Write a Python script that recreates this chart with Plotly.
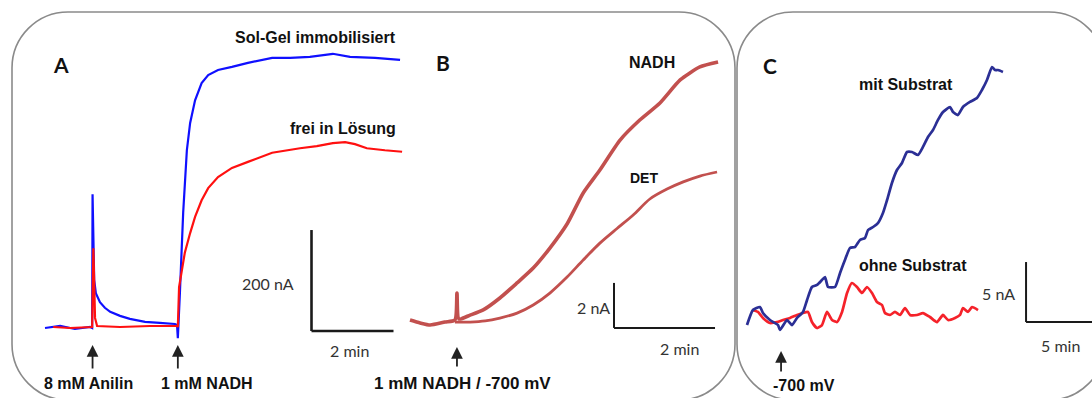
import plotly.graph_objects as go

W, H = 1092, 398

# ---------------- Panel A: amperometric response (time in min, current in nA)
A_SOLGEL_T = [0.00, 0.37, 0.73, 1.10, 1.15, 1.16, 1.20, 1.24, 1.34, 1.46, 1.59, 1.83, 2.07, 2.44,
              2.80, 3.17, 3.22, 3.24, 3.29, 3.37, 3.46, 3.54, 3.66, 3.82, 3.98, 4.22, 4.56, 4.95,
              5.54, 5.98, 6.46, 7.02, 7.44, 8.05, 8.66]
A_SOLGEL_I = [0, 4, -2, 2, 0, 265, 95, 69, 51, 40, 32, 24, 18, 12,
              10, 8, 6, -20, 69, 228, 352, 406, 451, 485, 501, 511, 517, 525,
              535, 535, 537, 543, 537, 535, 531]

A_FREI_T = [0.20, 0.61, 1.15, 1.18, 1.22, 1.27, 1.83, 2.56, 3.22, 3.24, 3.27, 3.33, 3.41, 3.54,
            3.66, 3.82, 3.98, 4.22, 4.56, 4.95, 5.54, 6.22, 6.63, 7.02, 7.32, 7.56, 7.85, 8.29, 8.71]
A_FREI_I = [2, 0, 2, 158, 20, 4, 2, 4, 4, 2, 81, 109, 149, 188,
            220, 253, 277, 299, 317, 329, 347, 356, 360, 366, 368, 364, 356, 352, 349]

A_ANILIN_T = 1.16   # 8 mM Anilin
A_NADH_T = 3.24     # 1 mM NADH

# ---------------- Panel B
B_NADH_T = [0.00, 0.20, 0.40, 0.69, 0.89, 0.93, 0.97, 1.19, 1.45, 1.78, 2.12, 2.44, 2.77, 3.11,
            3.43, 3.76, 4.16, 4.55, 4.95, 5.35, 5.74, 6.10]
B_NADH_I = [0.22, 0.09, 0.00, 0.13, 0.22, 1.42, 0.27, 0.44, 0.67, 1.20, 1.87, 2.53, 3.42, 4.49,
            5.87, 6.89, 8.22, 9.11, 9.87, 10.89, 11.47, 11.69]

B_DET_T = [0.89, 1.19, 1.49, 1.78, 2.12, 2.44, 2.77, 3.11, 3.43, 3.76, 4.10, 4.42, 4.75, 5.09,
           5.41, 5.74, 6.08]
B_DET_I = [0.13, 0.13, 0.18, 0.31, 0.53, 0.89, 1.42, 2.13, 2.89, 3.64, 4.29, 4.89, 5.60, 6.04,
           6.36, 6.62, 6.80]

B_START_T = 0.93    # 1 mM NADH / -700 mV

# ---------------- Panel C
C_MIT_T = [0.00, 0.45, 0.98, 1.21, 1.74, 2.35, 2.50, 3.03, 3.41, 3.79, 4.24, 4.55, 4.92, 5.30,
           5.68, 5.91, 6.14, 6.67, 7.05, 7.42, 7.80, 8.18, 8.56, 8.94, 9.17, 9.55, 9.92, 10.30,
           10.61, 10.98, 11.36, 11.74, 12.12, 12.50, 12.95, 13.33, 13.71, 14.09, 14.47, 14.85,
           15.38, 15.61, 15.98, 16.36, 16.89, 17.42, 17.80, 18.18, 18.56, 18.79, 19.02, 19.39]
C_MIT_I = [-0.42, 0.83, 1.08, 0.58, 0.00, -0.42, -0.83, 0.00, -0.42, 0.17, 0.67, 1.67, 2.75, 2.92,
           3.33, 3.58, 2.75, 2.75, 3.92, 5.00, 6.00, 6.08, 6.67, 6.83, 7.50, 7.75, 8.08, 8.92,
           10.00, 11.42, 12.50, 13.08, 14.00, 14.00, 13.75, 14.42, 15.25, 15.83, 16.67, 17.33,
           17.75, 17.33, 17.08, 17.75, 18.17, 18.50, 19.17, 20.00, 21.08, 20.83, 20.83, 20.67]

C_OHNE_T = [0.38, 0.83, 1.21, 1.74, 2.27, 2.73, 3.26, 3.79, 4.24, 4.62, 4.92, 5.30, 5.68, 6.06,
            6.44, 6.82, 7.20, 7.58, 7.95, 8.33, 8.71, 9.09, 9.47, 9.85, 10.23, 10.45, 10.83, 11.21,
            11.59, 11.97, 12.35, 12.88, 13.33, 13.86, 14.39, 14.85, 15.23, 15.76, 16.14, 16.36,
            16.74, 17.05, 17.50]
C_OHNE_I = [0.83, 0.67, 0.17, -0.25, -0.17, 0.00, 0.17, 0.42, 0.58, 0.67, -0.17, -0.67, -0.42, 0.67,
            0.00, -0.17, 0.67, 2.25, 3.08, 2.75, 2.25, 2.75, 2.25, 1.50, 1.25, 0.58, 0.42, 0.67,
            0.42, 1.00, 0.42, 0.42, 0.58, 0.25, -0.17, 0.42, 0.00, 0.17, 0.42, 1.00,
            0.67, 1.08, 0.83]

C_START_T = 2.58    # -700 mV

# Scale bars: (corner x, corner y, length x, length y) in each panel's units
A_BAR = (6.5, -6, 2, 200)
B_BAR = (4.04, -0.13, 2, 2)
C_BAR = (21.14, -0.17, 5, 5)


def px(x):
    return x / W


def py(y):
    return 1 - y / H


def frame(left, right, top, bottom, x0, sx, y0, sy):
    """Axis domain/range so that value 0 sits at pixel (x0, y0) with sx, sy px per unit."""
    return dict(
        xdomain=[px(left), px(right)],
        ydomain=[py(bottom), py(top)],
        xrange=[(left - x0) / sx, (right - x0) / sx],
        yrange=[(y0 - bottom) / sy, (y0 - top) / sy],
    )


frames = {
    "": frame(20, 405, 15, 398, 45, 41, 328, 0.505),
    "2": frame(405, 733, 15, 398, 410, 50.5, 325, 22.5),
    "3": frame(740, 1092, 15, 398, 747, 13.2, 320, 12),
}

fig = go.Figure()

BLUE, RED = "#1010ff", "#ff1010"
BROWN = "#c2504e"
NAVY, CRED = "#2b2f95", "#f5222a"

fig.add_trace(go.Scatter(x=A_SOLGEL_T, y=A_SOLGEL_I, mode="lines",
                         line=dict(color=BLUE, width=2.2), xaxis="x", yaxis="y"))
fig.add_trace(go.Scatter(x=A_FREI_T, y=A_FREI_I, mode="lines",
                         line=dict(color=RED, width=2.2), xaxis="x", yaxis="y"))
fig.add_trace(go.Scatter(x=B_DET_T, y=B_DET_I, mode="lines",
                         line=dict(color=BROWN, width=2.8, shape="spline", smoothing=0.8),
                         xaxis="x2", yaxis="y2"))
fig.add_trace(go.Scatter(x=B_NADH_T, y=B_NADH_I, mode="lines",
                         line=dict(color=BROWN, width=3.6, shape="spline", smoothing=0.6),
                         xaxis="x2", yaxis="y2"))
fig.add_trace(go.Scatter(x=C_OHNE_T, y=C_OHNE_I, mode="lines",
                         line=dict(color=CRED, width=2.7, shape="spline", smoothing=0.5),
                         xaxis="x3", yaxis="y3"))
fig.add_trace(go.Scatter(x=C_MIT_T, y=C_MIT_I, mode="lines",
                         line=dict(color=NAVY, width=2.7, shape="spline", smoothing=0.5),
                         xaxis="x3", yaxis="y3"))

layout = dict(
    width=W, height=H,
    margin=dict(l=0, r=0, t=0, b=0),
    paper_bgcolor="white", plot_bgcolor="rgba(0,0,0,0)",
    showlegend=False,
)
for suf, f in frames.items():
    ax = dict(domain=f["xdomain"], range=f["xrange"], visible=False, fixedrange=True)
    ay = dict(domain=f["ydomain"], range=f["yrange"], visible=False, fixedrange=True)
    if suf:
        ax["anchor"] = "y" + suf
        ay["anchor"] = "x" + suf
    layout["xaxis" + suf] = ax
    layout["yaxis" + suf] = ay
fig.update_layout(**layout)


def rounded_box(x0, y0, x1, y1, r):
    k = 0.5523 * r
    pts = [
        ("M", [(x0 + r, y0)]),
        ("L", [(x1 - r, y0)]),
        ("C", [(x1 - r + k, y0), (x1, y0 + r - k), (x1, y0 + r)]),
        ("L", [(x1, y1 - r)]),
        ("C", [(x1, y1 - r + k), (x1 - r + k, y1), (x1 - r, y1)]),
        ("L", [(x0 + r, y1)]),
        ("C", [(x0 + r - k, y1), (x0, y1 - r + k), (x0, y1 - r)]),
        ("L", [(x0, y0 + r)]),
        ("C", [(x0, y0 + r - k), (x0 + r - k, y0), (x0 + r, y0)]),
    ]
    path = ""
    for cmd, ps in pts:
        path += cmd + " ".join(f"{px(a):.5f},{py(b):.5f}" for a, b in ps) + " "
    return dict(type="path", path=path + "Z", xref="paper", yref="paper",
                line=dict(color="#8a8a8a", width=1.6), layer="below")


shapes = [rounded_box(12, 12, 735, 400, 56), rounded_box(737, 12, 1105, 400, 56)]


def scale_bar(bar, suf, width):
    x0, y0, lx, ly = bar
    xr, yr = "x" + suf, "y" + suf
    ln = dict(color="#1a1a1a", width=width)
    return [
        dict(type="line", xref=xr, yref=yr, x0=x0, y0=y0, x1=x0, y1=y0 + ly, line=ln),
        dict(type="line", xref=xr, yref=yr, x0=x0, y0=y0, x1=x0 + lx, y1=y0, line=ln),
    ]


shapes += scale_bar(A_BAR, "", 2.6)
shapes += scale_bar(B_BAR, "2", 2)
shapes += scale_bar(C_BAR, "3", 2)
fig.update_layout(shapes=shapes)

BOLD = "Liberation Sans, Arial, sans-serif"
REG = "Lato, sans-serif"
ann = []


def label(text, x, y, size=16, bold=True, family=BOLD, xanchor="center", color="#111"):
    t = f"<b>{text}</b>" if bold else text
    ann.append(dict(text=t, x=px(x), y=py(y), xref="paper", yref="paper",
                    xanchor=xanchor, yanchor="middle", showarrow=False,
                    font=dict(family=family, size=size, color=color)))


def arrow(t, suf, tip_y, tail_y):
    ann.append(dict(text="", x=t, y=py(tip_y), xref="x" + suf, yref="paper",
                    ax=0, ay=tail_y - tip_y, showarrow=True, arrowhead=2,
                    arrowsize=1.3, arrowwidth=1.8, arrowcolor="#222"))


# panel letters
label("A", 61, 64, size=21, family="Lato, sans-serif")
label("B", 443, 63, size=21, family="Lato, sans-serif")
label("C", 770, 65, size=21, family="Lato, sans-serif")

# panel A
label("Sol-Gel immobilisiert", 398, 38, xanchor="right")
label("frei in Lösung", 398, 128, xanchor="right")
label("200 nA", 268, 283, size=16, bold=False, family=REG, color="#333")
label("2 min", 349, 350, size=16, bold=False, family=REG, color="#333")
label("8 mM Anilin", 88, 383)
label("1 mM NADH", 207, 383)
arrow(A_ANILIN_T, "", 345, 370)
arrow(A_NADH_T, "", 345, 370)

# panel B
label("NADH", 652, 63, size=16)
label("DET", 644, 178, size=14)
label("2 nA", 593, 307, size=16, bold=False, family=REG, color="#333")
label("2 min", 679, 348, size=16, bold=False, family=REG, color="#333")
label("1 mM NADH / -700 mV", 462, 383, size=17)
arrow(B_START_T, "2", 347, 368)

# panel C
label("mit Substrat", 906, 85)
label("ohne Substrat", 913, 265)
label("5 nA", 998, 293, size=16, bold=False, family=REG, color="#333")
label("5 min", 1060, 345, size=16, bold=False, family=REG, color="#333")
label("-700 mV", 804, 385)
arrow(C_START_T, "3", 351, 373)

fig.update_layout(annotations=ann)

fig.write_html("out.html")
